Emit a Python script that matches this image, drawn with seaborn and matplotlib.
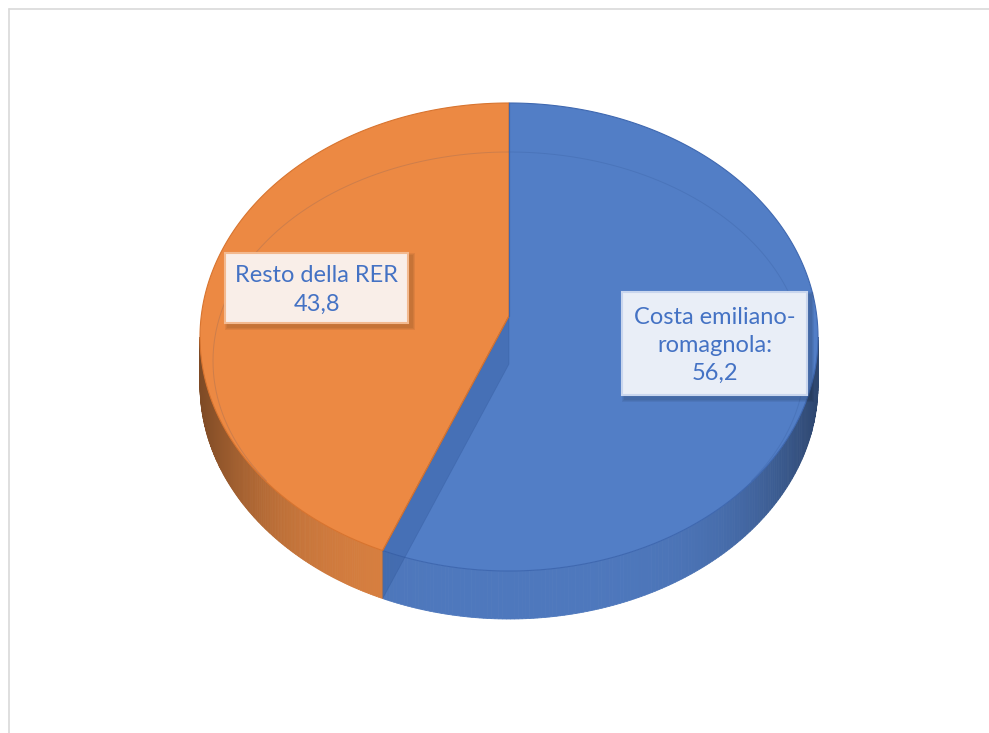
import numpy as np
import matplotlib
matplotlib.use("Agg")
import matplotlib.pyplot as plt
from matplotlib.patches import Polygon, Rectangle
import seaborn as sns

# Share of the total (%) by area
categories = ["Costa emiliano-\nromagnola:", "Resto della RER"]
shares = [56.2, 43.8]
label_sep = ["\n", "\n"]

sns.set_theme(style="white")
plt.rcParams["font.family"] = ["Lato", "DejaVu Sans"]

top_colors = sns.color_palette(["#527EC6", "#EC8943"])
side_colors = sns.color_palette(["#4E78BD", "#D98040"])
edge_colors = ["#3F68B0", "#D8742F"]
box_fill = ["#E9EEF7", "#F9EEE8"]
box_edge = ["#C9D6EE", "#F3B98F"]
text_color = "#4472C4"

W, H = 989, 733
fig = plt.figure(figsize=(W / 100, H / 100), dpi=100)
ax = fig.add_axes([0, 0, 1, 1])
ax.set_xlim(0, W)
ax.set_ylim(H, 0)
ax.axis("off")

# chart area frame
ax.plot([9, 9], [H, 9], color="#D9D9D9", lw=1.2)
ax.plot([9, W], [9, 9], color="#D9D9D9", lw=1.2)

# pie geometry (pixel space, tilted disc)
cx, cy, rx, ry = 509, 337, 309, 234
apex = np.array([509, 316])
depth = 48


def rim(theta_deg):
    t = np.radians(theta_deg)
    return np.column_stack([cx + rx * np.sin(t), cy - ry * np.cos(t)])


def persp(theta_deg):
    # front of the disc looks wider in perspective: spread angles there a bit
    t = np.radians(np.asarray(theta_deg, dtype=float))
    return np.degrees(t + 0.045 * np.sin(2 * t))


fractions = np.array(shares) / np.sum(shares)
bounds = persp(np.concatenate([[0], np.cumsum(fractions) * 360]))

# side walls of the front half, shaded strip by strip
for i in range(len(shares)):
    a0, a1 = max(bounds[i], 90), min(bounds[i + 1], 270)
    if a1 <= a0:
        continue
    angs = np.linspace(a0, a1, 160)
    pts = rim(angs)
    base = np.array(side_colors[i])
    for j in range(len(angs) - 1):
        s = np.sin(np.radians(0.5 * (angs[j] + angs[j + 1])))
        f = 1 - 0.42 * abs(s) ** 4
        col = np.clip(base * f, 0, 1)
        p0, p1 = pts[j], pts[j + 1]
        quad = [p0, p1, p1 + [0, depth], p0 + [0, depth]]
        ax.add_patch(Polygon(quad, closed=True, facecolor=col,
                             edgecolor=col, lw=0.6, zorder=2))

# top faces
for i in range(len(shares)):
    arc = rim(np.linspace(bounds[i], bounds[i + 1], 300))
    poly = np.vstack([apex, arc])
    ax.add_patch(Polygon(poly, closed=True, facecolor=top_colors[i],
                         edgecolor=edge_colors[i], lw=0.8, zorder=3))

# bevel shoulder line on the top surface (back and sides)
t = np.radians(np.linspace(-125, 125, 300))
ix, iy = cx + 296 * np.sin(t), 361 - 209 * np.cos(t)
ax.plot(ix, iy, color="#1F3F7A", lw=0.7, alpha=0.15, zorder=4)

# cut face of the first slice seen through the top
cut = rim([bounds[1]])[0]
face = [apex, cut, cut + [0, depth], apex + [0, depth]]
ax.add_patch(Polygon(face, closed=True, facecolor="#2F5597",
                     edgecolor="#2F5597", lw=0.6, alpha=0.32, zorder=5))
ax.plot([apex[0], cut[0]], [apex[1], cut[1]], color="#D8742F", lw=0.8, zorder=5)
ax.plot([cx, cx], [cy - ry, apex[1]], color="#3F68B0", lw=0.9, zorder=5)

# data labels
boxes = [(622, 292, 185, 103), (225, 253, 183, 70)]
for i, (bx, by, bw, bh) in enumerate(boxes):
    for k, a in enumerate([0.05, 0.05, 0.06]):
        g = 3 + 2 * k
        ax.add_patch(Rectangle((bx + 3 - g / 2, by + 3 - g / 2), bw + g, bh + g,
                               facecolor="#000000", edgecolor="none",
                               alpha=a, zorder=6))
    ax.add_patch(Rectangle((bx, by), bw, bh, facecolor=box_fill[i],
                           edgecolor=box_edge[i], lw=1.5, zorder=7))
    value = f"{shares[i]:.1f}".replace(".", ",")
    ax.text(bx + bw / 2, by + bh / 2 + 2, categories[i] + label_sep[i] + value,
            ha="center", va="center", fontsize=17, color=text_color,
            linespacing=1.42, zorder=8)

fig.savefig("out.png", dpi=100)
